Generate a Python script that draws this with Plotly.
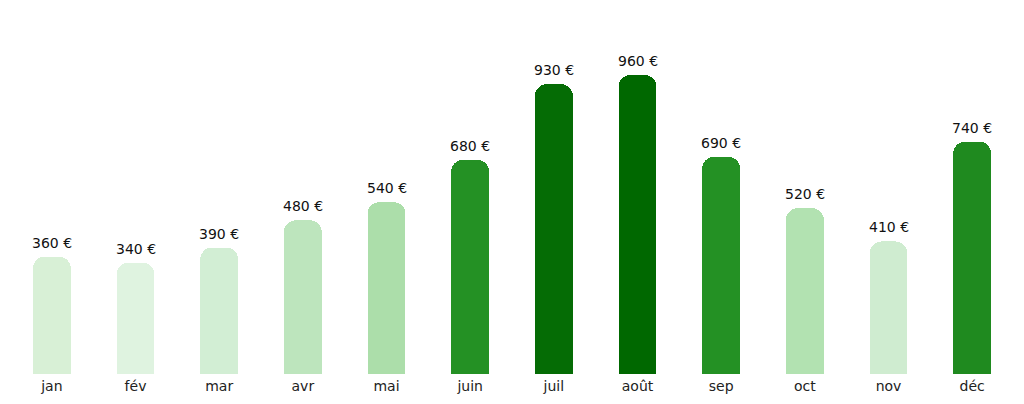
import plotly.graph_objects as go

months = ["jan", "fév", "mar", "avr", "mai", "juin", "juil", "août", "sep", "oct", "nov", "déc"]
revenue = [360, 340, 390, 480, 540, 680, 930, 960, 690, 520, 410, 740]
bar_colors = ["#d8f0d6", "#dff3e0", "#d2eed4", "#bde5bd", "#acdeaa", "#249124",
              "#056c05", "#006800", "#249124", "#b2e2b1", "#cfecd0", "#1f8a1f"]

# bars sit on a short foot below zero, like the original
foot = 28

fig = go.Figure()

fig.add_trace(go.Bar(
    x=months, y=[foot] * len(months), base=-foot,
    marker=dict(color=bar_colors, line=dict(width=0)),
    hoverinfo="skip",
))
fig.add_trace(go.Bar(
    x=months,
    y=revenue,
    marker=dict(color=bar_colors, cornerradius=12, line=dict(width=0)),
    hoverinfo="skip",
))

# value labels above each bar
for m, v in zip(months, revenue):
    fig.add_annotation(x=m, y=v, text=f"{v} €", showarrow=False,
                       yanchor="bottom", yshift=4,
                       font=dict(family="DejaVu Sans", size=14, color="#111"))

fig.update_layout(
    width=1008, height=388,
    margin=dict(l=2, r=2, t=12, b=22),
    paper_bgcolor="white", plot_bgcolor="white",
    barmode="stack",
    bargap=0.546,
    showlegend=False,
    font=dict(family="DejaVu Sans", size=14, color="#222"),
)
fig.update_xaxes(showgrid=False, showline=False, zeroline=False, ticks="",
                 ticklabelstandoff=2, tickfont=dict(size=14, color="#222"))
fig.update_yaxes(range=[-foot, 1142], visible=False)

fig.write_html("out.html")
